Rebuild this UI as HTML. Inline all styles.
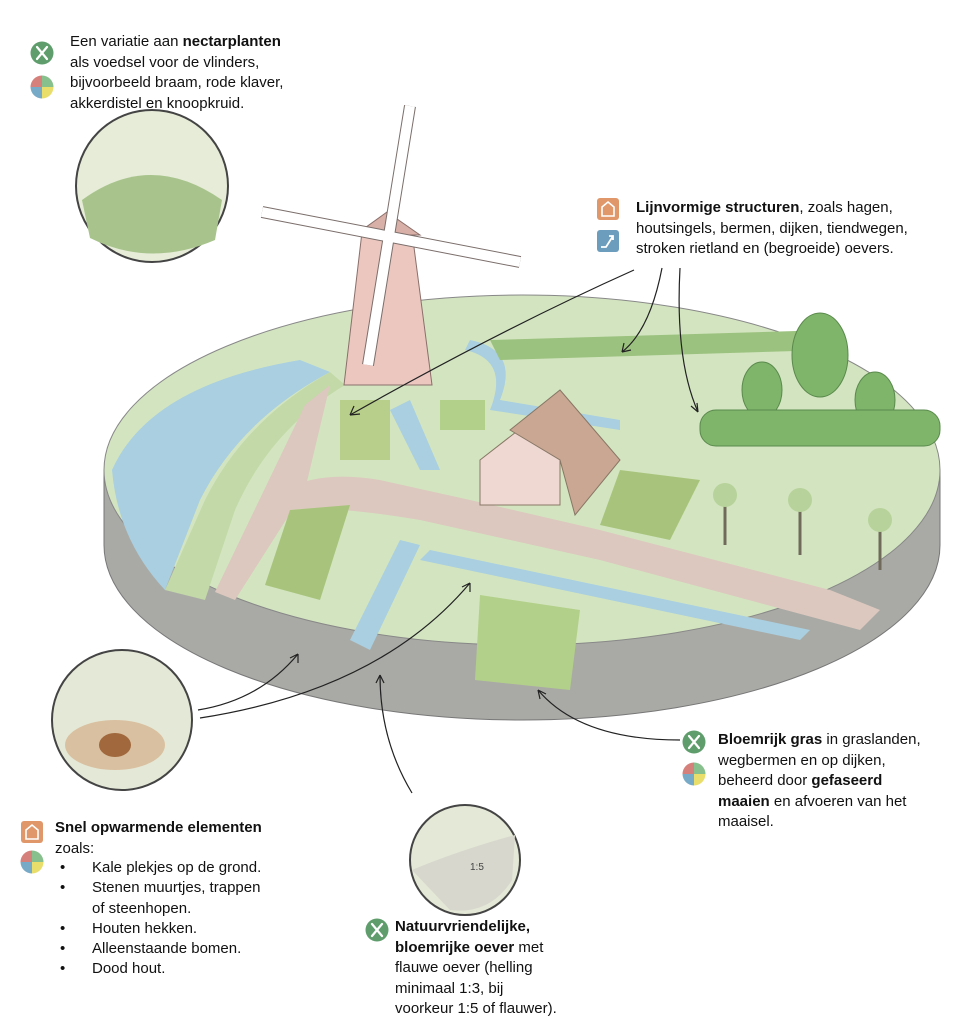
<!DOCTYPE html>
<html><head><meta charset="utf-8"><style>
body{margin:0;width:973px;height:1024px;background:#fff;position:relative;overflow:hidden;font-family:"Liberation Sans",sans-serif;color:#111}
.t{position:absolute;font-size:15px;line-height:20.5px}
b{font-weight:bold}
</style></head><body>
<svg width="973" height="1024" style="position:absolute;left:0;top:0">
<defs>
<g id="fork"><circle r="11.5" fill="#5f9e6c"/><path d="M-5,-6 L5,6 M5,-6 L-5,6" stroke="#fff" stroke-width="2.2" stroke-linecap="round"/></g>
<g id="pie"><path d="M0,0 L0,-11.5 A11.5,11.5 0 0 0 -11.5,0Z" fill="#d6807c"/><path d="M0,0 L0,-11.5 A11.5,11.5 0 0 1 11.5,0Z" fill="#87c08d"/><path d="M0,0 L11.5,0 A11.5,11.5 0 0 1 0,11.5Z" fill="#e9de6b"/><path d="M0,0 L0,11.5 A11.5,11.5 0 0 1 -11.5,0Z" fill="#77aac6"/></g>
<g id="house"><rect x="-11" y="-11" width="22" height="22" rx="3" fill="#e0976a"/><path d="M-6,7 V-2 L0,-7 L6,-2 V7Z" fill="none" stroke="#fff" stroke-width="1.6"/></g>
</defs>
<!-- disk side -->
<path d="M104,470 L104,545 A418,175 0 0 0 940,545 L940,470Z" fill="#a9aaa5" stroke="#777" stroke-width="1"/>
<ellipse cx="522" cy="470" rx="418" ry="175" fill="#d3e5c0" stroke="#888" stroke-width="1"/>
<!-- water left -->
<path d="M112,470 Q150,385 300,360 L330,372 Q240,420 200,500 L165,590 Q118,540 112,470Z" fill="#a9cfe0"/>
<path d="M165,590 L205,500 Q245,420 330,372 L345,385 Q270,430 235,510 L205,600Z" fill="#c3d9a8"/>
<!-- roads -->
<path d="M305,405 L330,385 L305,490 L235,600 L215,592 Z" fill="#dcc8be"/>
<path d="M285,490 Q320,470 380,480 L470,500 L600,530 L830,590 L880,610 L860,630 L600,560 L420,520 Q330,505 290,510Z" fill="#dcc8be"/>
<!-- canals -->
<path d="M400,540 L350,640 L370,650 L420,545Z" fill="#a9cfe0"/>
<path d="M420,560 L800,640 L810,630 L430,550Z" fill="#a9cfe0"/>
<path d="M390,410 L420,470 L440,470 L410,400Z" fill="#a9cfe0"/>
<path d="M470,340 Q520,350 500,400 L620,420 L620,430 L490,410 Q510,360 465,350Z" fill="#a9cfe0"/>
<!-- reeds -->
<path d="M490,340 L830,330 L830,350 L500,360Z" fill="#9cc27f"/>
<!-- flower fields -->
<rect x="340" y="400" width="50" height="60" fill="#b7cf8a"/>
<path d="M290,510 L350,505 L320,600 L265,585Z" fill="#a8c47c"/>
<path d="M480,595 L580,610 L570,690 L475,680Z" fill="#b3d08a"/>
<path d="M620,470 L700,480 L670,540 L600,525Z" fill="#a8c47c"/>
<rect x="440" y="400" width="45" height="30" fill="#b3d08a"/>
<!-- trees -->
<g fill="#7fb46b" stroke="#5a8a4c"><ellipse cx="820" cy="355" rx="28" ry="42"/><ellipse cx="875" cy="400" rx="20" ry="28"/><ellipse cx="762" cy="390" rx="20" ry="28"/><rect x="700" y="410" width="240" height="36" rx="16"/></g>
<g stroke="#6f6a5a" stroke-width="3"><line x1="725" y1="495" x2="725" y2="545"/><line x1="800" y1="500" x2="800" y2="555"/><line x1="880" y1="520" x2="880" y2="570"/></g>
<g fill="#b7d29a"><circle cx="725" cy="495" r="12"/><circle cx="800" cy="500" r="12"/><circle cx="880" cy="520" r="12"/></g>
<!-- farmhouse -->
<path d="M480,460 L525,425 L560,455 L560,505 L480,505Z" fill="#f0d8d2" stroke="#876" />
<path d="M510,430 L560,390 L620,460 L575,515 L560,460Z" fill="#c9a793" stroke="#876"/>
<!-- windmill -->
<path d="M362,232 L412,232 L432,385 L344,385Z" fill="#ecc7c0" stroke="#8a6f6a"/>
<path d="M355,235 L387,212 L420,235Z" fill="#d9b0a8" stroke="#8a6f6a"/>
<g stroke="#7a6e6a" stroke-width="12" fill="none"><line x1="262" y1="212" x2="520" y2="262"/><line x1="410" y1="106" x2="368" y2="365"/></g>
<g stroke="#fff" stroke-width="10"><line x1="262" y1="212" x2="520" y2="262"/><line x1="410" y1="106" x2="368" y2="365"/></g>
<!-- circles -->
<circle cx="152" cy="186" r="76" fill="#e6ecd8" stroke="#444" stroke-width="2"/>
<path d="M82,200 Q150,150 222,200 L215,240 Q150,268 90,238Z" fill="#a8c48c"/>
<circle cx="122" cy="720" r="70" fill="#e4e8d6" stroke="#444" stroke-width="2"/>
<ellipse cx="115" cy="745" rx="50" ry="25" fill="#d9c0a0"/><ellipse cx="115" cy="745" rx="16" ry="12" fill="#a0683c"/>
<circle cx="465" cy="860" r="55" fill="#e4e8d6" stroke="#444" stroke-width="2"/>
<path d="M412,870 Q460,850 515,835 L512,880 Q490,915 450,910Z" fill="#d7d7cd"/>
<text x="470" y="870" font-size="10" fill="#444" font-family="Liberation Sans">1:5</text>
<!-- arrows -->
<g fill="none" stroke="#222" stroke-width="1.2">
<path d="M634,270 Q500,330 350,415"/><path d="M350,415 l10,-1 M350,415 l4,-9"/>
<path d="M662,268 Q650,330 622,352"/><path d="M622,352 l9,-2 M622,352 l2,-9"/>
<path d="M680,268 Q675,360 698,412"/><path d="M698,412 l-1,-9 M698,412 l-7,-6"/>
<path d="M198,710 Q260,700 298,654"/><path d="M298,654 l-8,4 M298,654 l0,9"/>
<path d="M200,718 Q380,690 470,583"/><path d="M470,583 l-8,4 M470,583 l0,9"/>
<path d="M412,793 Q380,740 380,675"/><path d="M380,675 l-4,8 M380,675 l4,8"/>
<path d="M680,740 Q580,740 538,690"/><path d="M538,690 l2,9 M538,690 l8,4"/>
</g>
<use href="#fork" x="42" y="53"/><use href="#pie" x="42" y="87"/>
<use href="#house" x="608" y="209"/>
<rect x="597" y="230" width="22" height="22" rx="3" fill="#6d9dbd"/><path d="M601,247 L606,247 L613,236 M609,236 L613,236 L613,240" stroke="#fff" stroke-width="1.8" fill="none"/>
<use href="#house" x="32" y="832"/><use href="#pie" x="32" y="862"/>
<use href="#fork" x="377" y="930"/>
<use href="#fork" x="694" y="742"/><use href="#pie" x="694" y="774"/>
</svg>
<div class="t" style="left:70px;top:32px">Een variatie aan <b>nectarplanten</b><br>als voedsel voor de vlinders,<br>bijvoorbeeld braam, rode klaver,<br>akkerdistel en knoopkruid.</div>
<div class="t" style="left:636px;top:198px">
<b>Lijnvormige structuren</b>, zoals hagen,<br>houtsingels, bermen, dijken, tiendwegen,<br>stroken rietland en (begroeide) oevers.</div>
<div class="t" style="left:55px;top:818px"><b>Snel opwarmende elementen</b><br>zoals:</div>
<div class="t" style="left:60px;top:858px;line-height:20.3px">•<br>•<br><br>•<br>•<br>•</div>
<div class="t" style="left:92px;top:858px;line-height:20.3px">Kale plekjes op de grond.<br>Stenen muurtjes, trappen<br>of steenhopen.<br>Houten hekken.<br>Alleenstaande bomen.<br>Dood hout.</div>
<div class="t" style="left:395px;top:917px"><b>Natuurvriendelijke,<br>bloemrijke oever</b> met<br>flauwe oever (helling<br>minimaal 1:3, bij<br>voorkeur 1:5 of flauwer).</div>
<div class="t" style="left:718px;top:730px"><b>Bloemrijk gras</b> in graslanden,<br>wegbermen en op dijken,<br>beheerd door <b>gefaseerd<br>maaien</b> en afvoeren van het<br>maaisel.</div>
</body></html>
